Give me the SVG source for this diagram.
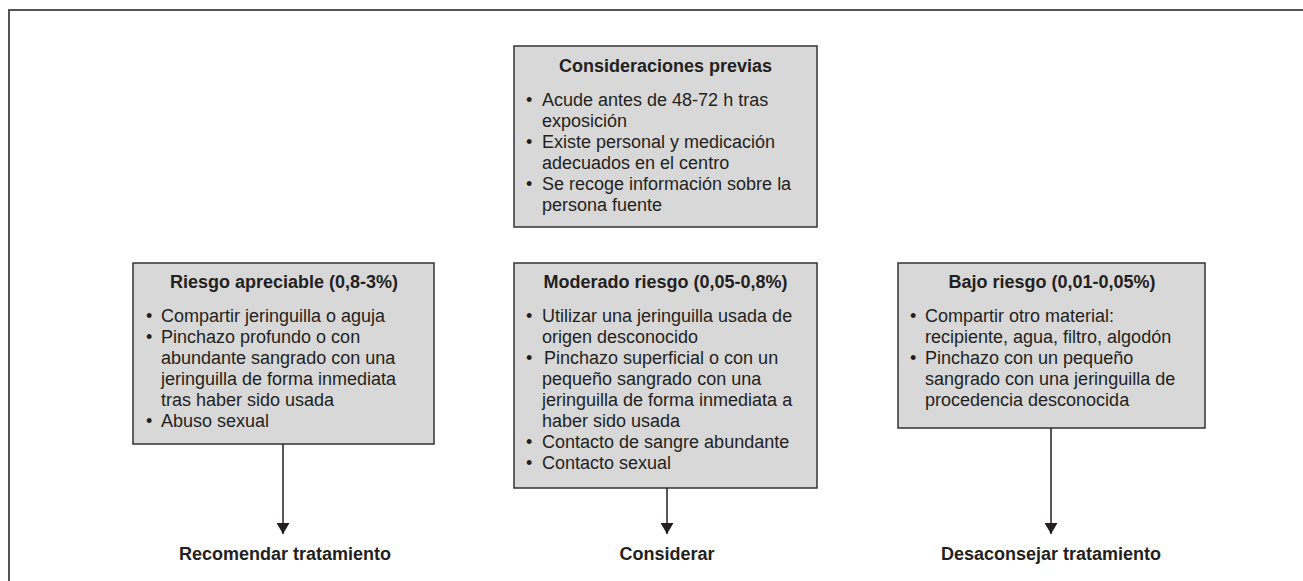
<svg xmlns="http://www.w3.org/2000/svg" width="1303" height="581" viewBox="0 0 1303 581">
<style>
.box{fill:#d8d8d8;stroke:#333;stroke-width:1.5}
.h{font-family:"Liberation Sans",Arial,sans-serif;font-size:18px;font-weight:bold;fill:#231f20;text-anchor:middle}
.t{font-family:"Liberation Sans",Arial,sans-serif;font-size:18px;fill:#231f20}
.c{stroke:#231f20;stroke-width:1.5;fill:none}
.frame{stroke:#555;stroke-width:2;fill:none}
</style>
<defs>
<marker id="ah" markerWidth="11" markerHeight="13" refX="11" refY="6.5" orient="auto" markerUnits="userSpaceOnUse" viewBox="0 0 11 13">
<path d="M0,0 L11,6.5 L0,13 Z" fill="#231f20"/>
</marker>
</defs>
<rect width="1303" height="581" fill="#fff"/>
<path class="frame" d="M9,581 L9,10 L1303,10"/>

<g id="previas">
<rect class="box" x="514" y="46" width="303" height="181"/>
<text class="h" x="665.5" y="72">Consideraciones previas</text>
<text class="t" x="526" y="106">•</text><text class="t" x="542" y="106">Acude antes de 48-72 h tras</text>
<text class="t" x="542" y="127">exposición</text>
<text class="t" x="526" y="148">•</text><text class="t" x="542" y="148">Existe personal y medicación</text>
<text class="t" x="542" y="169">adecuados en el centro</text>
<text class="t" x="526" y="190">•</text><text class="t" x="542" y="190">Se recoge información sobre la</text>
<text class="t" x="542" y="211">persona fuente</text>
</g>

<g id="apreciable">
<rect class="box" x="133" y="263" width="301" height="181"/>
<text class="h" x="284" y="288">Riesgo apreciable (0,8-3%)</text>
<text class="t" x="146" y="322">•</text><text class="t" x="161" y="322">Compartir jeringuilla o aguja</text>
<text class="t" x="146" y="343">•</text><text class="t" x="161" y="343">Pinchazo profundo o con</text>
<text class="t" x="161" y="364">abundante sangrado con una</text>
<text class="t" x="161" y="385">jeringuilla de forma inmediata</text>
<text class="t" x="161" y="406">tras haber sido usada</text>
<text class="t" x="146" y="427">•</text><text class="t" x="161" y="427">Abuso sexual</text>
</g>

<g id="moderado">
<rect class="box" x="514" y="263" width="303" height="225"/>
<text class="h" x="665.5" y="288">Moderado riesgo (0,05-0,8%)</text>
<text class="t" x="526" y="322">•</text><text class="t" x="542" y="322">Utilizar una jeringuilla usada de</text>
<text class="t" x="542" y="343">origen desconocido</text>
<text class="t" x="526" y="364">•</text><text class="t" x="544" y="364">Pinchazo superficial o con un</text>
<text class="t" x="542" y="385">pequeño sangrado con una</text>
<text class="t" x="542" y="406">jeringuilla de forma inmediata a</text>
<text class="t" x="542" y="427">haber sido usada</text>
<text class="t" x="526" y="448">•</text><text class="t" x="542" y="448">Contacto de sangre abundante</text>
<text class="t" x="526" y="469">•</text><text class="t" x="542" y="469">Contacto sexual</text>
</g>

<g id="bajo">
<rect class="box" x="898" y="263" width="307" height="165"/>
<text class="h" x="1052" y="288">Bajo riesgo (0,01-0,05%)</text>
<text class="t" x="910" y="322">•</text><text class="t" x="925" y="322">Compartir otro material:</text>
<text class="t" x="925" y="343">recipiente, agua, filtro, algodón</text>
<text class="t" x="910" y="364">•</text><text class="t" x="925" y="364">Pinchazo con un pequeño</text>
<text class="t" x="925" y="385">sangrado con una jeringuilla de</text>
<text class="t" x="925" y="406">procedencia desconocida</text>
</g>

<g id="connectors">
<line class="c" x1="283" y1="444" x2="283" y2="534" marker-end="url(#ah)"/>
<line class="c" x1="667" y1="488" x2="667" y2="534" marker-end="url(#ah)"/>
<line class="c" x1="1051" y1="428" x2="1051" y2="534" marker-end="url(#ah)"/>
</g>

<g id="recomendar"><text class="h" x="285" y="560">Recomendar tratamiento</text></g>
<g id="considerar"><text class="h" x="667" y="560">Considerar</text></g>
<g id="desaconsejar"><text class="h" x="1051" y="560">Desaconsejar tratamiento</text></g>
</svg>
